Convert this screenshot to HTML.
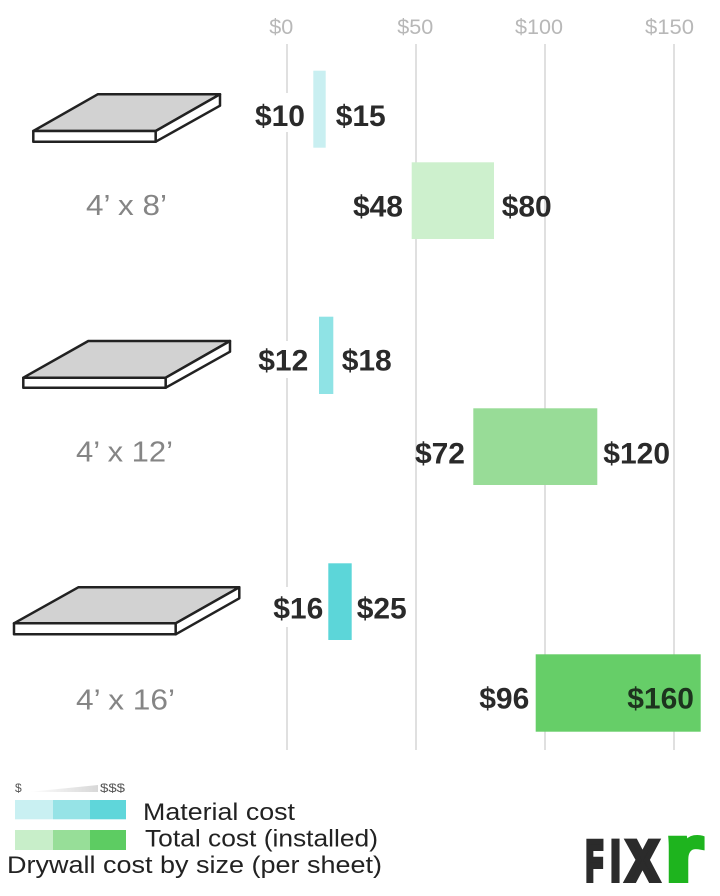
<!DOCTYPE html>
<html>
<head>
<meta charset="utf-8">
<style>
  html,body{margin:0;padding:0;background:#fff;}
  body{width:720px;height:896px;overflow:hidden;}
  svg{display:block;}
  .tick{font-family:"Liberation Sans",sans-serif;font-size:21px;fill:#b8b8b8;}
  .val{font-family:"Liberation Sans",sans-serif;font-size:30px;font-weight:bold;fill:#2a2a2a;}
  .size{font-family:"Liberation Sans",sans-serif;font-size:29px;fill:#858585;}
  .leg{font-family:"Liberation Sans",sans-serif;font-size:24px;fill:#222;}
  .small{font-family:"Liberation Sans",sans-serif;font-size:12px;fill:#555;}
</style>
</head>
<body>
<svg width="720" height="896" viewBox="0 0 720 896" xmlns="http://www.w3.org/2000/svg">
  <defs>
    <linearGradient id="wedge" x1="0" y1="0" x2="1" y2="0">
      <stop offset="0" stop-color="#ffffff"/>
      <stop offset="1" stop-color="#d8d8d8"/>
    </linearGradient>
  </defs>

  <!-- tick labels -->
  <text class="tick" x="269.3" y="34" textLength="24" lengthAdjust="spacingAndGlyphs">$0</text>
  <text class="tick" x="397.3" y="34" textLength="36" lengthAdjust="spacingAndGlyphs">$50</text>
  <text class="tick" x="515" y="34" textLength="48" lengthAdjust="spacingAndGlyphs">$100</text>
  <text class="tick" x="645" y="34" textLength="49" lengthAdjust="spacingAndGlyphs">$150</text>

  <!-- gridlines -->
  <g stroke="#e0e0e0" stroke-width="2">
    <line x1="287" y1="44" x2="287" y2="750"/>
    <line x1="416" y1="44" x2="416" y2="750"/>
    <line x1="545" y1="44" x2="545" y2="750"/>
    <line x1="674" y1="44" x2="674" y2="750"/>
  </g>

  <!-- white backgrounds behind labels -->
  <g fill="#fff">
    <rect x="250" y="93" width="58" height="39"/>
    <rect x="252" y="341" width="60" height="37"/>
    <rect x="268" y="587" width="58" height="40"/>
  </g>

  <!-- bars -->
  <rect x="313.3" y="70.7" width="12.4" height="77" fill="#c9eff1"/>
  <rect x="411.7" y="162.3" width="82.3" height="76.7" fill="#cdf0cd"/>
  <rect x="319" y="316.7" width="14.3" height="77.3" fill="#8fe3e5"/>
  <rect x="473.3" y="408.3" width="124" height="76.7" fill="#98dc97"/>
  <rect x="328.3" y="563.3" width="23.4" height="76.7" fill="#5cd6d9"/>
  <rect x="535.7" y="654.3" width="165" height="77.4" fill="#66ce68"/>

  <!-- value labels -->
  <text class="val" x="305" y="126" text-anchor="end">$10</text>
  <text class="val" x="335.7" y="126">$15</text>
  <text class="val" x="403" y="216.7" text-anchor="end">$48</text>
  <text class="val" x="501.7" y="216.7">$80</text>
  <text class="val" x="308.3" y="370.7" text-anchor="end">$12</text>
  <text class="val" x="341.7" y="370.7">$18</text>
  <text class="val" x="465" y="463.5" text-anchor="end">$72</text>
  <text class="val" x="603.3" y="463.5">$120</text>
  <text class="val" x="323.3" y="618.3" text-anchor="end">$16</text>
  <text class="val" x="356.7" y="618.3">$25</text>
  <text class="val" x="529.3" y="708.3" text-anchor="end">$96</text>
  <text class="val" x="694" y="708.3" text-anchor="end" style="fill:#1d331e">$160</text>

  <!-- sheet icons -->
  <g stroke="#222" stroke-width="2.5" stroke-linejoin="round">
    <polygon points="97.7,94.3 220,94.3 155.7,131 33.3,131" fill="#d2d2d2"/>
    <rect x="33.3" y="131" width="122.4" height="10.7" fill="#fff"/>
    <polygon points="155.7,131 220,94.3 220,105.7 155.7,141.7" fill="#fff"/>

    <polygon points="88.3,341 230,341 165.7,377.7 23.3,377.7" fill="#d2d2d2"/>
    <rect x="23.3" y="377.7" width="142.4" height="10" fill="#fff"/>
    <polygon points="165.7,377.7 230,341 230,351.7 165.7,387.7" fill="#fff"/>

    <polygon points="78.3,587.3 239.3,587.3 175.7,623.3 14,623.3" fill="#d2d2d2"/>
    <rect x="14" y="623.3" width="161.7" height="11" fill="#fff"/>
    <polygon points="175.7,623.3 239.3,587.3 239.3,598.3 175.7,634.3" fill="#fff"/>
  </g>

  <!-- size labels -->
  <text class="size" x="86" y="215" textLength="81" lengthAdjust="spacingAndGlyphs">4’ x 8’</text>
  <text class="size" x="76" y="461.7" textLength="97" lengthAdjust="spacingAndGlyphs">4’ x 12’</text>
  <text class="size" x="76" y="709.3" textLength="99" lengthAdjust="spacingAndGlyphs">4’ x 16’</text>

  <!-- legend -->
  <text class="small" x="15" y="792">$</text>
  <polygon points="28,792 98,785 98,792" fill="url(#wedge)"/>
  <text class="small" x="100" y="792" textLength="25" lengthAdjust="spacingAndGlyphs">$$$</text>

  <rect x="15" y="800" width="38" height="19.3" fill="#c9f0f2"/>
  <rect x="53" y="800" width="37" height="19.3" fill="#96e3e6"/>
  <rect x="90" y="800" width="36" height="19.3" fill="#5fd6da"/>

  <rect x="15" y="830" width="38" height="20" fill="#c8eec9"/>
  <rect x="53" y="830" width="37" height="20" fill="#97de98"/>
  <rect x="90" y="830" width="36" height="20" fill="#5dcc62"/>

  <text class="leg" x="143" y="820" textLength="152" lengthAdjust="spacingAndGlyphs">Material cost</text>
  <text class="leg" x="145" y="846.7" textLength="233" lengthAdjust="spacingAndGlyphs">Total cost (installed)</text>
  <text class="leg" x="7" y="873" textLength="375" lengthAdjust="spacingAndGlyphs">Drywall cost by size (per sheet)</text>

  <!-- logo -->
  <g font-family="Liberation Sans, sans-serif" font-weight="bold" stroke-linejoin="miter">
    <text x="586" y="880" font-size="56" fill="#2b2b2b" stroke="#2b2b2b" stroke-width="6" textLength="17" lengthAdjust="spacingAndGlyphs">F</text>
    <text x="611" y="880" font-size="56" fill="#2b2b2b" stroke="#2b2b2b" stroke-width="6" textLength="9" lengthAdjust="spacingAndGlyphs">I</text>
    <text x="627" y="880" font-size="56" fill="#2b2b2b" stroke="#2b2b2b" stroke-width="6" textLength="31" lengthAdjust="spacingAndGlyphs">X</text>
    <text x="665" y="880.5" font-size="80" fill="#1eb41e" stroke="#1eb41e" stroke-width="5" textLength="38" lengthAdjust="spacingAndGlyphs">r</text>
  </g>
</svg>
</body>
</html>
